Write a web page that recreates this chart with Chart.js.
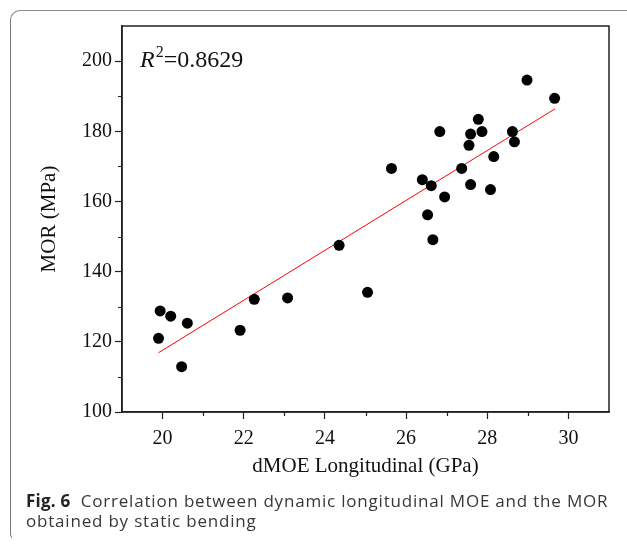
<!DOCTYPE html>
<html>
<head>
<meta charset="utf-8">
<script src="https://cdn.jsdelivr.net/npm/chart.js@4.4.1/dist/chart.umd.min.js"></script>
<style>
    html, body { margin: 0; padding: 0; background: #fff; }
    #wrap { position: relative; width: 627px; height: 545px; overflow: hidden; }
    #chart { position: absolute; left: 0; top: 0; }
    #frame {
        position: absolute; left: 10px; top: 10px; width: 660px; height: 528px;
        border-left: 1.5px solid #777; border-top: 1.5px solid #888;
        border-top-left-radius: 10px; border-bottom-left-radius: 6px;
        border-bottom: 1.5px solid transparent;
    }
    #caption {
        position: absolute; left: 26px; top: 491px; width: 600px;
        font-family: "Open Sans", sans-serif; font-size: 17px; line-height: 20px;
        letter-spacing: 0.8px; color: #383838; white-space: nowrap;
    }
    #caption b { font-weight: 700; color: #222; letter-spacing: 0.2px; }
</style>
</head>
<body>
<div id="wrap">
    <div id="frame"></div>
    <canvas id="chart" width="627" height="545"></canvas>
    <div id="caption"><b>Fig. 6</b>&nbsp; Correlation between dynamic longitudinal MOE and the MOR<br>obtained by static bending</div>
</div>
<script>
// measured samples: dynamic MOE (GPa) vs MOR (MPa)
const dmoe = [19.90, 19.94, 20.20, 20.47, 20.61, 21.91, 22.26, 23.08, 24.35, 25.05,
              25.64, 26.40, 26.53, 26.62, 26.66, 26.83, 26.95, 27.37, 27.55, 27.59,
              27.59, 27.78, 27.87, 28.08, 28.16, 28.62, 28.67, 28.98, 29.66];
const mor  = [121.0, 128.8, 127.3, 112.9, 125.3, 123.3, 132.1, 132.5, 147.5, 134.1,
              169.4, 166.2, 156.2, 164.5, 149.1, 179.9, 161.3, 169.4, 176.0, 164.8,
              179.2, 183.4, 179.9, 163.4, 172.8, 179.9, 177.0, 194.6, 189.4];

// linear fit end points
const fitX = [19.90, 29.67];
const fitY = [116.9, 186.4];

const xMajor = [20, 22, 24, 26, 28, 30];
const xMinor = [21, 23, 25, 27, 29];
const yMajor = [100, 120, 140, 160, 180, 200];
const yMinor = [110, 130, 150, 170, 190];

const r2Text = '0.8629';

const SERIF = '"Liberation Serif", "Times New Roman", serif';
const AXIS = '#222';

// box round the plot, short minor ticks, R² note
const framePlugin = {
    id: 'framePlugin',
    afterDraw(chart) {
        const { ctx, chartArea: a, scales } = chart;
        ctx.save();
        ctx.strokeStyle = AXIS;
        ctx.lineWidth = 1.5;
        ctx.strokeRect(a.left, a.top, a.right - a.left, a.bottom - a.top);

        ctx.lineWidth = 1.2;
        ctx.beginPath();
        xMinor.forEach(v => {
            const px = Math.round(scales.x.getPixelForValue(v)) + 0.5;
            ctx.moveTo(px, a.bottom);
            ctx.lineTo(px, a.bottom + 4);
        });
        yMinor.forEach(v => {
            const py = Math.round(scales.y.getPixelForValue(v)) + 0.5;
            ctx.moveTo(a.left, py);
            ctx.lineTo(a.left - 4, py);
        });
        ctx.stroke();

        // R^2 label
        const x0 = a.left + 18;
        const y0 = a.top + 41;
        ctx.fillStyle = '#111';
        ctx.textBaseline = 'alphabetic';
        ctx.font = 'italic 24px ' + SERIF;
        ctx.fillText('R', x0, y0);
        let x = x0 + ctx.measureText('R').width + 1;
        ctx.font = '16px ' + SERIF;
        ctx.fillText('2', x, y0 - 10);
        x += ctx.measureText('2').width;
        ctx.font = '24px ' + SERIF;
        ctx.fillText('=' + r2Text, x, y0);
        ctx.restore();
    }
};

const points = dmoe.map((x, i) => ({ x, y: mor[i] }));
const fitLine = fitX.map((x, i) => ({ x, y: fitY[i] }));

new Chart(document.getElementById('chart'), {
    type: 'scatter',
    data: {
        datasets: [
            {
                label: 'MOR',
                data: points,
                backgroundColor: '#000',
                borderWidth: 0,
                pointRadius: 5.5,
                order: 1,
            },
            {
                label: 'Fit',
                data: fitLine,
                showLine: true,
                borderColor: '#ff0000',
                borderWidth: 1,
                pointRadius: 0,
                order: 2,
            },
        ],
    },
    options: {
        responsive: false,
        animation: false,
        layout: { padding: { left: 37, right: 18, top: 26, bottom: 66 } },
        scales: {
            x: {
                type: 'linear',
                min: 19,
                max: 31,
                afterBuildTicks: s => { s.ticks = xMajor.map(v => ({ value: v })); },
                afterFit: s => { s.height = 67; },
                ticks: {
                    font: { family: SERIF, size: 20 },
                    color: '#111',
                    padding: 8,
                    maxRotation: 0,
                    autoSkip: false,
                },
                grid: { drawOnChartArea: false, tickLength: 7, tickColor: AXIS, tickWidth: 1.2 },
                border: { color: AXIS, width: 1.5 },
                title: {
                    display: true,
                    text: 'dMOE Longitudinal (GPa)',
                    font: { family: SERIF, size: 21 },
                    color: '#111',
                    padding: 0,
                },
            },
            y: {
                type: 'linear',
                min: 100,
                max: 210,
                afterBuildTicks: s => { s.ticks = yMajor.map(v => ({ value: v })); },
                afterFit: s => { s.width = 85; },
                ticks: {
                    font: { family: SERIF, size: 20 },
                    color: '#111',
                    padding: 3,
                    autoSkip: false,
                },
                grid: { drawOnChartArea: false, tickLength: 7, tickColor: AXIS, tickWidth: 1.2 },
                border: { color: AXIS, width: 1.5 },
                title: {
                    display: true,
                    text: 'MOR (MPa)',
                    font: { family: SERIF, size: 21 },
                    color: '#111',
                    padding: 0,
                },
            },
        },
        plugins: {
            legend: { display: false },
            tooltip: { enabled: false },
        },
    },
    plugins: [framePlugin],
});
</script>
</body>
</html>
